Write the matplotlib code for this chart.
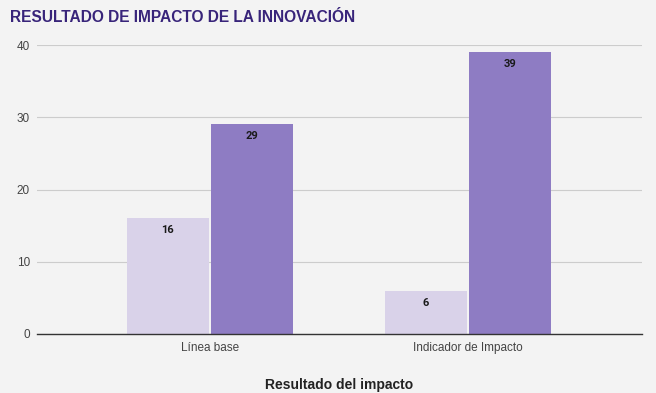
import matplotlib.pyplot as plt
import numpy as np

categories = ["Línea base", "Indicador de Impacto"]
serie_1 = [16, 6]
serie_2 = [29, 39]
y_ticks = [0, 10, 20, 30, 40]

plt.rcParams["font.family"] = ["Liberation Sans", "DejaVu Sans"]

fig = plt.figure(figsize=(6.56, 3.93), dpi=100)
fig.patch.set_facecolor("#f3f3f3")
ax = fig.add_axes([37 / 656, 59 / 393, 605 / 656, 289 / 393])
ax.set_facecolor("#f3f3f3")

x = np.arange(len(categories))
w = 0.318
gap = 0.004
b1 = ax.bar(x - w / 2 - gap, serie_1, w, color="#d9d2e9", zorder=3)
b2 = ax.bar(x + w / 2 + gap, serie_2, w, color="#8e7cc3", zorder=3)

for bars in (b1, b2):
    for r in bars:
        ax.annotate(f"{r.get_height():.0f}",
                    xy=(r.get_x() + r.get_width() / 2, r.get_height()),
                    xytext=(0, -5), textcoords="offset points",
                    ha="center", va="top", fontsize=8, fontweight="bold",
                    family=["Roboto", "DejaVu Sans"],
                    color="#1a1a1a", zorder=4)

ax.set_xlim(-0.67, 1.674)
ax.set_ylim(0, 40)
ax.set_yticks(y_ticks)
ax.set_xticks(x)
ax.set_xticklabels(categories)
ax.tick_params(axis="both", length=0, labelsize=8.5, colors="#444444")
ax.tick_params(axis="x", pad=6)
ax.tick_params(axis="y", pad=5)
ax.grid(axis="y", color="#cccccc", linewidth=0.8, zorder=0)
for s in ["top", "right", "left"]:
    ax.spines[s].set_visible(False)
ax.spines["bottom"].set_color("#333333")
ax.spines["bottom"].set_linewidth(1)
ax.spines["bottom"].set_zorder(5)

ax.set_xlabel("Resultado del impacto", fontsize=10, fontweight="bold",
              color="#222222", labelpad=17)
fig.text(10 / 656, 1 - 17 / 393, "RESULTADO DE IMPACTO DE LA INNOVACIÓN",
         fontsize=11.2, fontweight="bold", color="#38247a", va="center")

fig.savefig("out.png", dpi=100, facecolor=fig.get_facecolor())
